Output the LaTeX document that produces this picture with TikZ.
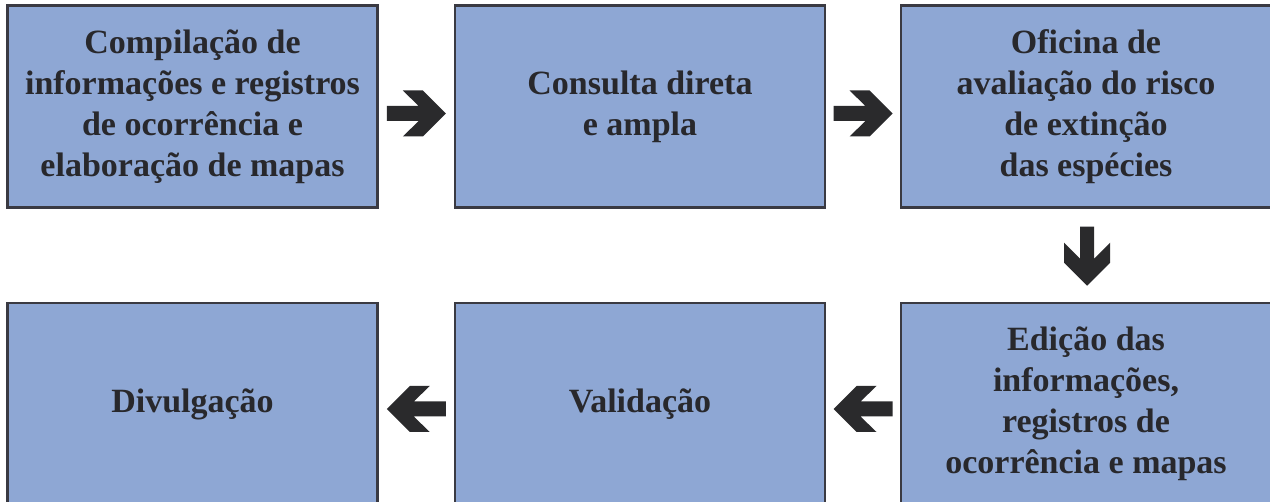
\documentclass[tikz,border=0pt]{standalone}
\usepackage{fontspec}
\setmainfont{Liberation Serif}
\definecolor{boxfill}{RGB}{142,167,212}
\definecolor{boxline}{RGB}{58,58,66}
\definecolor{txt}{RGB}{40,40,44}
\definecolor{arrowc}{RGB}{42,42,44}
\tikzset{
  stage/.style={draw=boxline, line width=2.2pt, fill=boxfill, minimum width=370pt, minimum height=202pt,
    inner sep=0pt, align=center, text=txt, font=\fontsize{34}{41}\selectfont\bfseries},
  blockarrow/.style={fill=arrowc, draw=none}
}
\newcommand{\rarrow}[1]{%
  \fill[blockarrow] ($(#1)+(-29.5pt,7.5pt)$) -- ++(32pt,0) -- ++(-16pt,15.5pt) -- ++(20pt,0) -- ++(23pt,-23pt)
    -- ++(-23pt,-23pt) -- ++(-20pt,0) -- ++(16pt,15.5pt) -- ++(-32pt,0) -- cycle;}
\newcommand{\larrow}[1]{%
  \fill[blockarrow] ($(#1)+(29.5pt,7.5pt)$) -- ++(-32pt,0) -- ++(16pt,15.5pt) -- ++(-20pt,0) -- ++(-23pt,-23pt)
    -- ++(23pt,-23pt) -- ++(20pt,0) -- ++(-16pt,15.5pt) -- ++(32pt,0) -- cycle;}
\newcommand{\darrow}[1]{%
  \fill[blockarrow] ($(#1)+(-7pt,28.5pt)$) -- ++(0,-32pt) -- ++(-16pt,16pt) -- ++(0,-20pt) -- ++(23pt,-23pt)
    -- ++(23pt,23pt) -- ++(0,20pt) -- ++(-16pt,-16pt) -- ++(0,32pt) -- cycle;}
\usetikzlibrary{calc}
\begin{document}
\begin{tikzpicture}[x=1pt,y=1pt]
\useasboundingbox (0,0) rectangle (1270,-502);
\clip (0,0) rectangle (1270,-502);
\fill[white] (0,0) rectangle (1270,-502);
\node[stage] (b1) at (192.5,-106.5) {Compilação de\\informações e registros\\de ocorrência e\\elaboração de mapas};
\node[stage] (b2) at (640,-106.5) {Consulta direta\\e ampla};
\node[stage] (b3) at (1086,-106.5) {Oficina de\\avaliação do risco\\de extinção\\das espécies};
\node[stage] (b4) at (1086,-404) {Edição das\\informações,\\registros de\\ocorrência e mapas};
\node[stage] (b5) at (640,-404) {Validação};
\node[stage] (b6) at (192.5,-404) {Divulgação};
\coordinate (a1) at ($($(b1.east)!0.5!(b2.west)$)+(0,-7)$);
\coordinate (a2) at ($($(b2.east)!0.5!(b3.west)$)+(0,-7)$);
\coordinate (a3) at ($(b3.south)!0.5!(b4.north)+(1,0)$);
\coordinate (a4) at ($($(b4.west)!0.5!(b5.east)$)+(0,-5)$);
\coordinate (a5) at ($($(b5.west)!0.5!(b6.east)$)+(0,-5)$);
\rarrow{a1}
\rarrow{a2}
\darrow{a3}
\larrow{a4}
\larrow{a5}
\end{tikzpicture}
\end{document}
